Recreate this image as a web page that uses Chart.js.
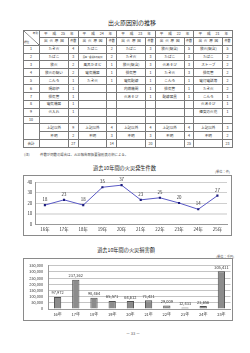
<!DOCTYPE html>
<html><head><meta charset="utf-8">
<script src="https://cdn.jsdelivr.net/npm/chart.js@4.4.0/dist/chart.umd.min.js"></script>
<style>
html,body{margin:0;padding:0;background:#fff;}
body{width:250px;height:353px;position:relative;overflow:hidden;font-family:"Noto Sans CJK JP","Noto Sans",sans-serif;color:#222;}
.t{position:absolute;white-space:nowrap;line-height:1;}
.c{position:absolute;box-sizing:border-box;border-right:1px solid #7a7a7a;border-bottom:1px solid #7a7a7a;display:flex;align-items:center;justify-content:center;font-size:3.6px;line-height:1;white-space:nowrap;overflow:hidden;color:#333;}
.box{position:absolute;box-sizing:border-box;border:1px solid #8a8a8a;}
canvas{position:absolute;}
</style></head><body>
<div class="t" style="left:132px;top:20px;font-size:6px;transform:translateX(-50%);">出火原因別の推移</div>
<div id="tbl"></div>
<div class="t" style="left:24px;top:152.5px;font-size:3.4px;color:#444;">(注)</div>
<div class="t" style="left:40px;top:152.5px;font-size:3.4px;color:#444;">件数が同数の場合は、火災報告取扱要領別表の順による。</div>

<div class="t" style="left:124.5px;top:164.5px;font-size:5.2px;transform:translateX(-50%);">過去10年間の火災発生件数</div>
<div class="t" style="left:215px;top:169.5px;font-size:3.2px;color:#555;">(単位：件)</div>
<div class="box" style="left:23px;top:175px;width:209px;height:61px;"></div>
<canvas id="lineChart" width="208" height="61" style="left:23px;top:175px;width:208px;height:61px;"></canvas>

<div class="t" style="left:126px;top:246.5px;font-size:5.2px;transform:translateX(-50%);">過去10年間の火災損害額</div>
<div class="t" style="left:216px;top:254.5px;font-size:3.2px;color:#555;">(単位：千円)</div>
<div class="box" style="left:23px;top:258px;width:210px;height:63px;"></div>
<canvas id="barChart" width="210" height="63" style="left:23px;top:258px;width:210px;height:63px;"></canvas>

<div class="t" style="left:133px;top:331px;font-size:4px;transform:translateX(-50%);color:#444;">－ 33 －</div>

<script>
// ---- table data ----
const tableYears = ['25', '24', '23', '22', '21'];
const ranks = ['1','2','3','4','5','6','7','8','9','10'];
const causes25 = ['たき火','たばこ','放火','放火の疑い','こんろ','焼却炉','排気管','電気機器','火入れ',''];
const counts25 = [4,3,2,2,1,1,1,1,1,null];
const causes24 = ['たばこ','灰皿・吸殻等の転倒','風呂かまど','電気機器','たき火','','','','',''];
const counts24 = [2,2,1,1,1,null,null,null,null,null];
const causes23 = ['たばこ','たき火','放火(疑含)','排気管','電気配線','内燃機関','火あそび','','',''];
const counts23 = [3,3,3,1,1,1,1,null,null,null];
const causes22 = ['放火(疑含)','たばこ','火あそび','たき火','こんろ','排気管','配線器具','','',''];
const counts22 = [5,3,3,3,1,1,1,null,null,null];
const causes21 = ['放火(疑含)','たばこ','ストーブ','排気管','電灯電話等','たき火','こんろ','火あそび','煙突の火花',''];
const counts21 = [5,2,2,2,2,2,1,1,1,null];
const otherCounts = [9,4,4,4,3];
const unknownCounts = [2,3,3,4,2];
const totalCounts = [27,14,20,25,23];

// ---- chart data ----
const years = ['16年','17年','18年','19年','20年','21年','22年','23年','24年','25年'];
const fireCounts = [18,23,18,35,37,23,25,20,14,27];
const damageValues = [97972,237362,90464,65571,64612,71421,29009,12433,23656,305411];
const countTickStep = 10, countMax = 40;
const damageTickStep = 50000, damageMax = 350000;

// ---- build table ----
const tbl = document.getElementById('tbl');
const X0 = 23, Y0 = 30, C0 = 17, GW = 38.6, CW = 28.8, RH = 7.87;
function cell(x, y, w, h, html, extra) {
  const d = document.createElement('div');
  d.className = 'c';
  d.style.left = x + 'px'; d.style.top = y + 'px';
  d.style.width = w + 'px'; d.style.height = h + 'px';
  if (extra) Object.assign(d.style, extra);
  if (html !== null && html !== undefined) d.innerHTML = html;
  tbl.appendChild(d);
  return d;
}
function spread(parts, pad) {
  return '<div style="display:flex;justify-content:space-between;width:100%;padding:0 ' + pad + 'px;box-sizing:border-box;">' +
    parts.map(p => '<span>' + p + '</span>').join('') + '</div>';
}
const frame = document.createElement('div');
frame.style.cssText = 'position:absolute;left:' + X0 + 'px;top:' + Y0 + 'px;width:' + (C0 + 5 * GW) + 'px;height:' + (15 * RH) + 'px;border-left:1px solid #7a7a7a;border-top:1px solid #7a7a7a;box-sizing:border-box;';
tbl.appendChild(frame);
const dh = cell(X0, Y0, C0, RH * 2, '', {
  background: 'linear-gradient(to top right, transparent calc(50% - 0.6px), #7a7a7a 50%, transparent calc(50% + 0.6px))',
  display: 'block', fontSize: '2.6px'
});
dh.innerHTML = '<span style="position:absolute;right:1px;top:1.5px;">年別</span><span style="position:absolute;left:1px;bottom:1.5px;">順位</span>';
const causeCols = [causes25, causes24, causes23, causes22, causes21];
const countCols = [counts25, counts24, counts23, counts22, counts21];
tableYears.forEach((yr, g) => {
  const gx = X0 + C0 + g * GW;
  cell(gx, Y0, GW, RH, spread(['平', '成', yr, '年'], 4));
  cell(gx, Y0 + RH, CW, RH, spread(['出', '火', '原', '因'], 4));
  cell(gx + CW, Y0 + RH, GW - CW, RH, '件数', {fontSize: '3px'});
  for (let r = 0; r < 10; r++) {
    const ry = Y0 + (r + 2) * RH;
    const txt = causeCols[g][r];
    const ext = txt.length > 6 ? {fontSize: '2.2px'} : null;
    cell(gx, ry, CW, RH, txt, ext);
    const v = countCols[g][r];
    cell(gx + CW, ry, GW - CW, RH, v === null ? '' : String(v));
  }
  cell(gx, Y0 + 12 * RH, CW, RH, '上記以外');
  cell(gx + CW, Y0 + 12 * RH, GW - CW, RH, String(otherCounts[g]));
  cell(gx, Y0 + 13 * RH, CW, RH, '不明');
  cell(gx + CW, Y0 + 13 * RH, GW - CW, RH, String(unknownCounts[g]));
  cell(gx, Y0 + 14 * RH, CW, RH, '');
  cell(gx + CW, Y0 + 14 * RH, GW - CW, RH, String(totalCounts[g]));
});
ranks.forEach((rk, r) => cell(X0, Y0 + (r + 2) * RH, C0, RH, rk));
cell(X0, Y0 + 12 * RH, C0, RH * 2, '');
cell(X0, Y0 + 14 * RH, C0, RH, '合計');

// ---- value label plugin ----
const valueLabels = {
  id: 'valueLabels',
  afterDatasetsDraw(chart, args, opts) {
    const ctx = chart.ctx;
    const meta = chart.getDatasetMeta(0);
    const data = chart.data.datasets[0].data;
    ctx.save();
    ctx.font = opts.font;
    ctx.fillStyle = opts.color;
    ctx.textAlign = 'center';
    ctx.textBaseline = 'middle';
    meta.data.forEach((el, i) => {
      const p = el.getProps(['x', 'y'], true);
      ctx.fillText(opts.format(data[i]), p.x, p.y - opts.offset);
    });
    ctx.restore();
  }
};
const tickFont = {family: '"Noto Sans CJK JP", sans-serif', size: 4.4};

new Chart(document.getElementById('lineChart'), {
  type: 'line',
  data: {labels: years, datasets: [{
    data: fireCounts, borderColor: '#5a5ac6', borderWidth: 1, tension: 0,
    pointStyle: 'rect', pointRadius: 1.5, pointBackgroundColor: '#1c1c7c', pointBorderColor: '#1c1c7c', pointBorderWidth: 0
  }]},
  options: {
    responsive: false, animation: false, devicePixelRatio: 1,
    layout: {padding: {top: 7, right: 2.3, bottom: 2, left: 0}},
    plugins: {legend: {display: false}, tooltip: {enabled: false},
      valueLabels: {font: '4.4px "Noto Sans CJK JP", sans-serif', color: '#333', offset: 5.5, format: v => String(v)}},
    scales: {
      x: {offset: true, grid: {display: false, drawTicks: false}, border: {color: '#999', width: 1},
        ticks: {font: tickFont, color: '#333', padding: 3, maxRotation: 0, autoSkip: false},
        afterFit(s) { s.height = 10; }},
      y: {min: 0, max: countMax, border: {color: '#999', width: 1},
        grid: {drawTicks: false,
          color: c => c.tick && c.tick.value === 10 ? '#e3e3e3' : '#cfcfcf',
          lineWidth: c => c.tick && c.tick.value === 10 ? 2 : 1},
        ticks: {stepSize: countTickStep, font: tickFont, color: '#333', padding: 3, autoSkip: false},
        afterFit(s) { s.width = 12.3; }}
    }
  },
  plugins: [valueLabels]
});

new Chart(document.getElementById('barChart'), {
  type: 'bar',
  data: {labels: years, datasets: [{
    data: damageValues, backgroundColor: '#8c8c8c', borderColor: '#505050', borderWidth: 1,
    barPercentage: 0.4, categoryPercentage: 1
  }]},
  options: {
    responsive: false, animation: false, devicePixelRatio: 1,
    layout: {padding: {top: 6, right: 2.5, bottom: 2, left: 0}},
    plugins: {legend: {display: false}, tooltip: {enabled: false},
      valueLabels: {font: '4px "Noto Sans CJK JP", sans-serif', color: '#333', offset: 4, format: v => v.toLocaleString('en-US')}},
    scales: {
      x: {grid: {display: false, drawTicks: false}, border: {color: '#999', width: 1},
        ticks: {font: {family: tickFont.family, size: 4}, color: '#333', padding: 3, maxRotation: 0, autoSkip: false},
        afterFit(s) { s.height = 10; }},
      y: {min: 0, max: damageMax, border: {color: '#999', width: 1},
        grid: {drawTicks: false, color: '#c4c4c4', lineWidth: 1},
        ticks: {stepSize: damageTickStep, font: {family: tickFont.family, size: 3.8}, color: '#333', padding: 5.5, autoSkip: false,
          callback: v => Number(v).toLocaleString('en-US')},
        afterFit(s) { s.width = 25.5; }}
    }
  },
  plugins: [valueLabels]
});
</script>
</body></html>
